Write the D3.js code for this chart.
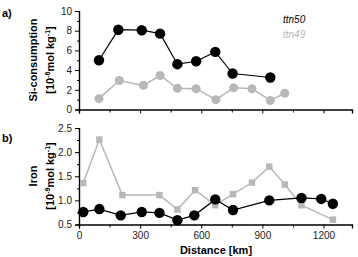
<!DOCTYPE html>
<html>
<head>
<meta charset="utf-8">
<script src="https://cdn.jsdelivr.net/npm/d3@7"></script>
<style>
  body { margin: 0; background: #fff; }
  text { font-family: "Liberation Sans", Arial, sans-serif; }
</style>
</head>
<body>
<svg id="chart"></svg>
<script>
// panel a) Si-consumption
const siDist50 = [98, 193, 308, 398, 483, 575, 669, 754, 939];
const siVal50 = [5.0, 8.1, 8.05, 7.7, 4.6, 4.9, 5.85, 3.65, 3.25];
const siDist49 = [98, 198, 316, 398, 483, 575, 672, 759, 849, 939, 1010];
const siVal49 = [1.1, 2.95, 2.45, 3.45, 2.15, 2.1, 1.0, 2.2, 2.1, 0.92, 1.65];

// panel b) Iron
const feDist50 = [21, 100, 205, 308, 395, 483, 566, 669, 756, 934, 1092, 1189, 1246];
const feVal50 = [0.76, 0.82, 0.69, 0.76, 0.74, 0.59, 0.69, 1.02, 0.80, 1.0, 1.05, 1.03, 0.93];
const feDist49 = [21, 100, 213, 395, 483, 570, 669, 756, 849, 934, 1010, 1092, 1246];
const feVal49 = [1.36, 2.26, 1.11, 1.11, 0.81, 1.21, 0.90, 1.13, 1.37, 1.70, 1.33, 0.90, 0.60];

const xTicks = [0, 300, 600, 900, 1200];
const siTicks = [0, 2, 4, 6, 8, 10];
const feTicks = [0.5, 1.0, 1.5, 2.0, 2.5];

const width = 358, height = 257;
const black = "#000", grey = "#b8b8b8";

const svg = d3.select("#chart").attr("width", width).attr("height", height);

const x = d3.scaleLinear().domain([0, 1340]).range([79, 352]);
const ySi = d3.scaleLinear().domain([0, 10]).range([109.5, 11]);
const yFe = d3.scaleLinear().domain([0.5, 2.5]).range([224.5, 128]);

function drawAxes(y, yTicks, yMinor, fmt, showXLabels) {
  const baseY = y.range()[0];
  const gx = svg.append("g").attr("transform", `translate(0,${baseY})`);
  gx.call(d3.axisBottom(x).tickValues(xTicks).tickSize(4).tickFormat(showXLabels ? d3.format("d") : ""));
  gx.append("g").call(d3.axisBottom(x).tickValues(d3.range(150, 1340, 300)).tickSize(3).tickFormat(""));
  const gy = svg.append("g").attr("transform", `translate(${x.range()[0]},0)`);
  gy.call(d3.axisLeft(y).tickValues(yTicks).tickSize(4).tickFormat(fmt));
  gy.append("g").call(d3.axisLeft(y).tickValues(yMinor).tickSize(2).tickFormat(""));
  svg.selectAll(".domain").attr("stroke", "#000").attr("stroke-width", 1.2);
  svg.selectAll(".tick line").attr("stroke", "#000");
  svg.selectAll(".tick text").attr("font-size", 10).attr("fill", "#222");
  svg.selectAll("g").attr("font-family", null);
}

function drawSeries(dists, vals, y, color, shape, size, lw) {
  const pts = dists.map((d, i) => [x(d), y(vals[i])]);
  svg.append("path")
    .attr("d", d3.line()(pts))
    .attr("fill", "none")
    .attr("stroke", color)
    .attr("stroke-width", lw);
  svg.append("g").selectAll("path")
    .data(pts)
    .enter()
    .append("path")
    .attr("transform", d => `translate(${d[0]},${d[1]})`)
    .attr("d", d3.symbol().type(shape).size(size))
    .attr("fill", color);
}

drawAxes(ySi, siTicks, [1, 3, 5, 7, 9], d3.format("d"), false);
drawAxes(yFe, feTicks, [0.75, 1.25, 1.75, 2.25], d3.format(".1f"), true);

drawSeries(siDist49, siVal49, ySi, grey, d3.symbolCircle, 64, 1.5);
drawSeries(siDist50, siVal50, ySi, black, d3.symbolCircle, 85, 1.2);
drawSeries(feDist49, feVal49, yFe, grey, d3.symbolSquare, 42, 1.5);
drawSeries(feDist50, feVal50, yFe, black, d3.symbolCircle, 85, 1.2);

// panel letters
svg.append("text").attr("x", 2).attr("y", 17).text("a)")
  .attr("font-size", 11).attr("font-weight", "bold");
svg.append("text").attr("x", 2).attr("y", 142).text("b)")
  .attr("font-size", 11).attr("font-weight", "bold");

// y titles
function yTitle(cy, line1, line2) {
  const g = svg.append("g").attr("transform", `translate(0,${cy}) rotate(-90)`)
    .attr("font-size", 11).attr("font-weight", "bold").attr("text-anchor", "middle");
  g.append("text").attr("x", 0).attr("y", 37).text(line1);
  const t = g.append("text").attr("x", 0).attr("y", 54);
  line2.forEach(p => {
    const s = t.append("tspan").text(p.t);
    if (p.sup) s.attr("font-size", 7).attr("dy", p.sup);
  });
}
yTitle(60, "Si-consumption", [
  {t: "[10"}, {t: "-6", sup: -4}, {t: "mol kg", sup: 4}, {t: "-1", sup: -4}, {t: "]", sup: 4}
]);
yTitle(176, "Iron", [
  {t: "[10"}, {t: "-9", sup: -4}, {t: "mol kg", sup: 4}, {t: "-1", sup: -4}, {t: "]", sup: 4}
]);
// restore normal size for non-superscript tspans
svg.selectAll("tspan").filter(function() { return this.textContent.length > 2; }).attr("font-size", 11);
svg.selectAll("tspan").filter(function() { return this.textContent === "]" || this.textContent === "[10"; }).attr("font-size", 11);

// x title
svg.append("text").attr("x", 216).attr("y", 254).attr("text-anchor", "middle")
  .attr("font-size", 11).attr("font-weight", "bold").text("Distance [km]");

// legend
svg.append("text").attr("x", 283).attr("y", 23).attr("font-size", 10)
  .attr("font-style", "italic").attr("fill", black).text("ttn50");
svg.append("text").attr("x", 283).attr("y", 38).attr("font-size", 10)
  .attr("font-style", "italic").attr("fill", grey).text("ttn49");
</script>
</body>
</html>
